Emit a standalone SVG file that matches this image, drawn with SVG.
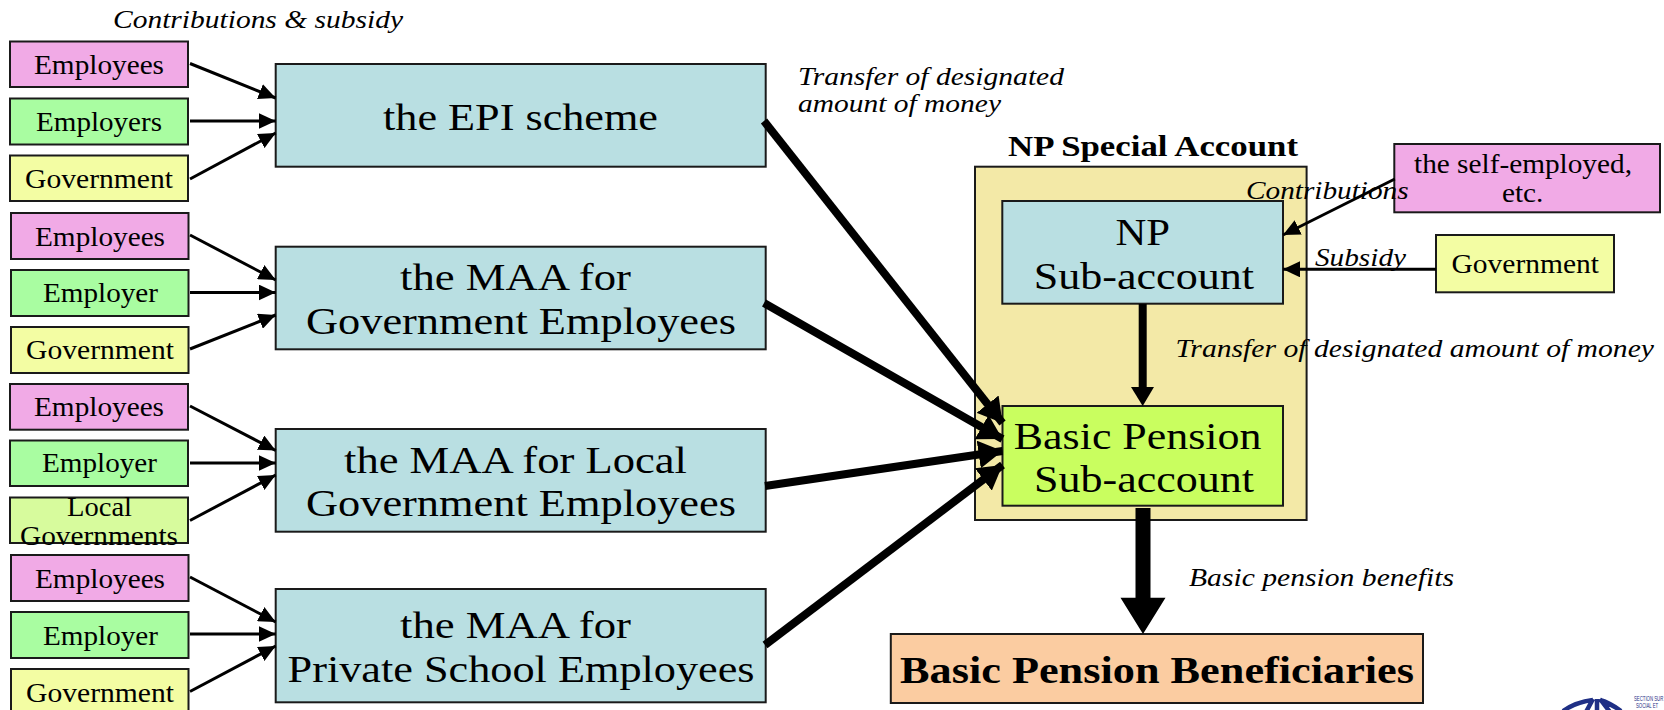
<svg xmlns="http://www.w3.org/2000/svg" width="1664" height="710" viewBox="0 0 1664 710">
<style>
text{font-family:"Liberation Serif","Times New Roman",serif;fill:#000}
.s,.b,.i,.h{transform:translateY(.7px)}
.s{font-size:26.5px}
.b{font-size:37px}
.i{font-size:25px;font-style:italic}
.h{font-weight:bold}
rect{stroke:#1a1a1a;stroke-width:2}
.pk{fill:#f1aae6}.gr{fill:#a9fda1}.ye{fill:#f3fda3}.lg{fill:#d7fb9d}.bl{fill:#b9dfe2}.sa{fill:#f3e9a7}.lm{fill:#c9fe5f}.or{fill:#fbcca1}
#connectors line{stroke:#000;fill:none}
.t{stroke-width:3;marker-end:url(#ah)}
.k{stroke-width:8;marker-end:url(#ak)}
text.lt{font-size:6.5px;font-family:"Liberation Sans",sans-serif;fill:#1f2f85}
</style>
<defs>
<marker id="ah" markerUnits="userSpaceOnUse" markerWidth="18" markerHeight="16" refX="17" refY="8" orient="auto"><path d="M0 0L17 8L0 16Z" fill="#000"/></marker>
<marker id="ak" markerUnits="userSpaceOnUse" markerWidth="25" markerHeight="28" refX="24" refY="14" orient="auto"><path d="M0 0L24 14L0 28Z" fill="#000"/></marker>
</defs>
<g id="np-special"><rect class="sa" x="975" y="166.7" width="331.6" height="353.3"/><text class="h" style="font-size:28.5px" x="1008" y="155.7" textLength="290" lengthAdjust="spacingAndGlyphs">NP Special Account</text></g>
<g id="n1"><rect class="pk" x="10" y="41.5" width="178" height="45.5"/><text class="s" x="34" y="73" textLength="130" lengthAdjust="spacingAndGlyphs">Employees</text></g>
<g id="n2"><rect class="gr" x="10" y="98.5" width="178" height="46"/><text class="s" x="36" y="130" textLength="126" lengthAdjust="spacingAndGlyphs">Employers</text></g>
<g id="n3"><rect class="ye" x="10" y="155.5" width="178" height="45.5"/><text class="s" x="25" y="187.3" textLength="148" lengthAdjust="spacingAndGlyphs">Government</text></g>
<g id="n4"><rect class="pk" x="11" y="213" width="177.5" height="46"/><text class="s" x="35" y="245" textLength="130" lengthAdjust="spacingAndGlyphs">Employees</text></g>
<g id="n5"><rect class="gr" x="11" y="270" width="177.5" height="46"/><text class="s" x="43" y="301.7" textLength="115" lengthAdjust="spacingAndGlyphs">Employer</text></g>
<g id="n6"><rect class="ye" x="11" y="327" width="177.5" height="46"/><text class="s" x="26" y="358.5" textLength="148" lengthAdjust="spacingAndGlyphs">Government</text></g>
<g id="n7"><rect class="pk" x="10" y="384" width="178" height="45.7"/><text class="s" x="34" y="415" textLength="130" lengthAdjust="spacingAndGlyphs">Employees</text></g>
<g id="n8"><rect class="gr" x="10" y="440.5" width="178" height="45.5"/><text class="s" x="42" y="471.7" textLength="115" lengthAdjust="spacingAndGlyphs">Employer</text></g>
<g id="n9"><rect class="lg" x="10" y="497.5" width="178" height="45.5"/><text class="s" x="67" y="515" textLength="65" lengthAdjust="spacingAndGlyphs">Local</text><text class="s" x="20" y="544.5" textLength="158" lengthAdjust="spacingAndGlyphs">Governments</text></g>
<g id="n10"><rect class="pk" x="11" y="555" width="177.5" height="46"/><text class="s" x="35" y="587" textLength="130" lengthAdjust="spacingAndGlyphs">Employees</text></g>
<g id="n11"><rect class="gr" x="11" y="612" width="177.5" height="46"/><text class="s" x="43" y="644" textLength="115" lengthAdjust="spacingAndGlyphs">Employer</text></g>
<g id="n12"><rect class="ye" x="11" y="669" width="177.5" height="46"/><text class="s" x="26" y="701" textLength="148" lengthAdjust="spacingAndGlyphs">Government</text></g>
<g id="epi"><rect class="bl" x="275.7" y="64" width="490" height="102.7"/><text class="b" x="383" y="129" textLength="275" lengthAdjust="spacingAndGlyphs">the EPI scheme</text></g>
<g id="maa-gov"><rect class="bl" x="275.7" y="246.7" width="490" height="102.6"/><text class="b" x="400" y="289" textLength="231" lengthAdjust="spacingAndGlyphs">the MAA for</text><text class="b" x="306" y="333" textLength="430" lengthAdjust="spacingAndGlyphs">Government Employees</text></g>
<g id="maa-local"><rect class="bl" x="275.7" y="429" width="490" height="102.7"/><text class="b" x="344" y="472" textLength="343" lengthAdjust="spacingAndGlyphs">the MAA for Local</text><text class="b" x="306" y="515" textLength="430" lengthAdjust="spacingAndGlyphs">Government Employees</text></g>
<g id="maa-private"><rect class="bl" x="275.7" y="589" width="490" height="113.3"/><text class="b" x="400" y="637" textLength="231" lengthAdjust="spacingAndGlyphs">the MAA for</text><text class="b" x="287.6" y="681" textLength="467" lengthAdjust="spacingAndGlyphs">Private School Employees</text></g>
<g id="np-sub"><rect class="bl" x="1002.3" y="201" width="280.7" height="102.7"/><text class="b" x="1115.4" y="244" textLength="54.6" lengthAdjust="spacingAndGlyphs">NP</text><text class="b" x="1033.7" y="288" textLength="220.3" lengthAdjust="spacingAndGlyphs">Sub-account</text></g>
<g id="basic-sub"><rect class="lm" x="1002.5" y="406" width="280.5" height="99.7"/><text class="b" x="1013.8" y="448" textLength="247.7" lengthAdjust="spacingAndGlyphs">Basic Pension</text><text class="b" x="1034" y="491" textLength="220" lengthAdjust="spacingAndGlyphs">Sub-account</text></g>
<g id="beneficiaries"><rect class="or" x="890.8" y="634" width="532.2" height="69"/><text class="b h" x="900" y="682" textLength="514" lengthAdjust="spacingAndGlyphs">Basic Pension Beneficiaries</text></g>
<g id="self-employed"><rect class="pk" x="1394.3" y="144" width="265.7" height="68.3"/><text class="s" x="1414" y="172.7" textLength="218" lengthAdjust="spacingAndGlyphs">the self-employed,</text><text class="s" x="1502" y="201.7" textLength="41.4" lengthAdjust="spacingAndGlyphs">etc.</text></g>
<g id="gov-np"><rect class="ye" x="1436" y="235" width="178" height="57.3"/><text class="s" x="1451.5" y="272.7" textLength="147.5" lengthAdjust="spacingAndGlyphs">Government</text></g>
<g id="labels">
<text class="i" x="113" y="27" textLength="290" lengthAdjust="spacingAndGlyphs">Contributions &amp; subsidy</text>
<text class="i" x="798" y="84" textLength="266" lengthAdjust="spacingAndGlyphs">Transfer of designated</text>
<text class="i" x="798" y="111.7" textLength="203" lengthAdjust="spacingAndGlyphs">amount of money</text>
<text class="i" x="1246" y="198" textLength="162.6" lengthAdjust="spacingAndGlyphs">Contributions</text>
<text class="i" x="1315" y="265.7" textLength="91" lengthAdjust="spacingAndGlyphs">Subsidy</text>
<text class="i" x="1175.5" y="356.7" textLength="478.5" lengthAdjust="spacingAndGlyphs">Transfer of designated amount of money</text>
<text class="i" x="1189" y="585" textLength="265" lengthAdjust="spacingAndGlyphs">Basic pension benefits</text>
</g>
<g id="connectors">
<line class="t" x1="190" y1="63.5" x2="275.7" y2="98"/><line class="t" x1="190" y1="121" x2="275.7" y2="121"/><line class="t" x1="190" y1="179" x2="275.7" y2="133"/>
<line class="t" x1="190" y1="235" x2="275.7" y2="280"/><line class="t" x1="190" y1="292.5" x2="275.7" y2="292.5"/><line class="t" x1="190" y1="349" x2="275.7" y2="315"/>
<line class="t" x1="190" y1="406" x2="275.7" y2="450.5"/><line class="t" x1="190" y1="463" x2="275.7" y2="463"/><line class="t" x1="190" y1="520.5" x2="275.7" y2="475"/>
<line class="t" x1="190" y1="577" x2="275.7" y2="622"/><line class="t" x1="190" y1="634" x2="275.7" y2="634"/><line class="t" x1="190" y1="691.5" x2="275.7" y2="646"/>
<line class="k" x1="764" y1="121" x2="1002.5" y2="423"/><line class="k" x1="764" y1="303" x2="1002.5" y2="439"/><line class="k" x1="765" y1="486" x2="1002.5" y2="451"/><line class="k" x1="765" y1="645" x2="1002.5" y2="465"/>
<line class="t" x1="1394.8" y1="179" x2="1283" y2="235"/><line class="t" x1="1436" y1="269.3" x2="1283" y2="269.3"/>
<line style="stroke-width:8" x1="1142.7" y1="304" x2="1142.7" y2="390"/><path d="M1131 387H1154L1142.7 406Z" fill="#000"/>
<path d="M1135.5 508H1150.5V597.7H1165.5L1143 634L1120.5 597.7H1135.5Z" fill="#000"/>
</g>
<g id="logo"><path fill="none" stroke="#1f2f85" stroke-width="4.5" d="M1563 711Q1576 702 1593 700M1621 711Q1610 703 1600 700M1593 699L1586 712M1597 699V712M1600 699L1610 712"/><text class="lt" transform="translate(1634 701) scale(.66 1)">SECTION SUR</text><text class="lt" transform="translate(1636 708) scale(.66 1)">SOCIAL ET</text></g>
</svg>
